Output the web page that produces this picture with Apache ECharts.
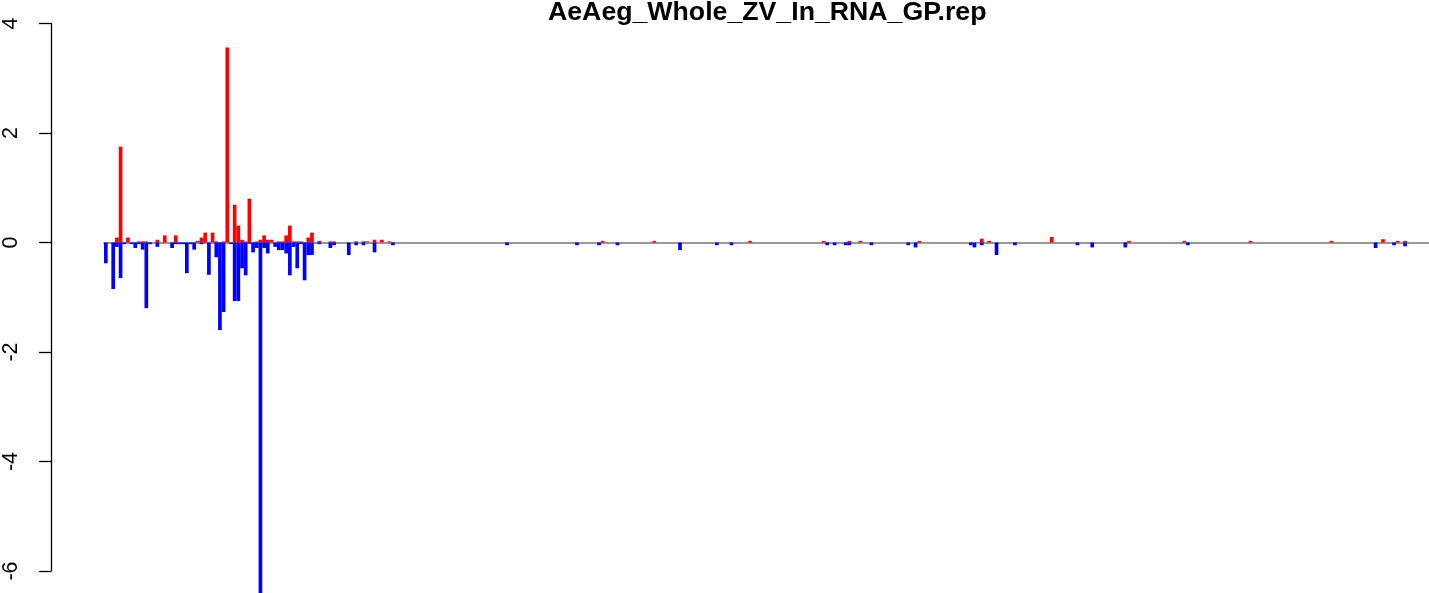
<!DOCTYPE html>
<html>
<head>
<meta charset="utf-8">
<script src="https://cdn.jsdelivr.net/npm/echarts@6/dist/echarts.min.js"></script>
<style>
html,body{margin:0;padding:0;background:#fff;}
#chart{width:1429px;height:593px;}
</style>
</head>
<body>
<div id="chart"></div>
<script>
const chartTitle = 'AeAeg_Whole_ZV_In_RNA_GP.rep';
const barCount = 360;
const yTicks = [-6, -4, -2, 0, 2, 4];

// positive (red) bars: column index and value
const redIdx = [3,4,6,9,10,11,14,16,19,25,26,27,29,30,32,33,35,36,37,38,39,41,42,43,44,45,47,48,49,50,51,52,53,55,56,58,61,62,68,70,71,73,75,77,135,149,175,195,202,205,221,238,240,257,278,293,311,333,347,351,353];
const redVal = [0.09,1.75,0.09,0.02,0.02,0.02,0.05,0.13,0.13,0.03,0.09,0.18,0.18,0.02,0.02,3.56,0.69,0.31,0.05,0.02,0.8,0.02,0.05,0.13,0.05,0.05,0.02,0.02,0.13,0.31,0.02,0.02,0.02,0.09,0.18,0.03,0.02,0.02,0.02,0.02,0.02,0.05,0.05,0.02,0.03,0.03,0.03,0.03,0.03,0.03,0.03,0.07,0.03,0.1,0.03,0.03,0.03,0.03,0.06,0.03,0.03];

// negative (blue) bars: column index and value
const blueIdx = [0,2,3,4,5,7,8,9,10,11,12,14,18,19,20,21,22,23,24,26,28,30,31,32,34,35,36,37,38,39,40,41,42,43,44,46,47,48,49,50,51,52,53,54,55,56,58,61,62,66,68,70,73,78,109,128,134,139,156,166,170,196,198,201,202,208,218,220,235,236,238,242,247,264,268,277,294,345,350,353];
const blueVal = [-0.38,-0.85,-0.08,-0.65,-0.03,-0.03,-0.1,-0.03,-0.13,-1.2,-0.03,-0.08,-0.1,-0.03,-0.03,-0.03,-0.56,-0.03,-0.13,-0.03,-0.59,-0.27,-1.6,-1.27,-0.03,-1.07,-1.07,-0.47,-0.6,-0.02,-0.18,-0.1,-6.4,-0.1,-0.2,-0.08,-0.14,-0.14,-0.2,-0.6,-0.08,-0.47,-0.03,-0.69,-0.23,-0.23,-0.03,-0.1,-0.05,-0.23,-0.05,-0.05,-0.18,-0.05,-0.05,-0.05,-0.05,-0.05,-0.14,-0.05,-0.05,-0.05,-0.05,-0.05,-0.05,-0.05,-0.05,-0.09,-0.05,-0.09,-0.05,-0.23,-0.05,-0.05,-0.09,-0.09,-0.05,-0.1,-0.05,-0.07];

const categories = [];
for (let i = 0; i < barCount; i++) categories.push(String(i + 1));
const redData = new Array(barCount).fill(0);
redIdx.forEach((k, j) => { redData[k] = redVal[j]; });
const blueData = new Array(barCount).fill(0);
blueIdx.forEach((k, j) => { blueData[k] = blueVal[j]; });

const chart = echarts.init(document.getElementById('chart'), null, {renderer: 'canvas'});
chart.setOption({
  animation: false,
  backgroundColor: '#ffffff',
  textStyle: {fontFamily: 'Liberation Sans, Arial, sans-serif'},
  title: {
    text: chartTitle,
    left: 548,
    top: -1,
    padding: 0,
    textStyle: {fontFamily: 'Liberation Sans, Arial, sans-serif', fontWeight: 'bold', fontSize: 26.7, color: '#000'}
  },
  grid: {left: 103.2, top: 23.5, width: 1330, height: 547.5},
  xAxis: {
    type: 'category',
    data: categories,
    boundaryGap: true,
    axisLine: {show: true, onZero: true, lineStyle: {color: '#999999', width: 2}},
    axisTick: {show: false},
    axisLabel: {show: false},
    splitLine: {show: false}
  },
  yAxis: {
    type: 'value',
    min: yTicks[0],
    max: yTicks[yTicks.length - 1],
    interval: 2,
    offset: 53,
    axisLine: {show: true, lineStyle: {color: '#000', width: 1.3}},
    axisTick: {show: true, length: 12, lineStyle: {color: '#000', width: 1.3}},
    axisLabel: {show: true, rotate: 90, fontSize: 21.5, color: '#000', margin: 29,
      fontFamily: 'Liberation Sans, Arial, sans-serif'},
    splitLine: {show: false}
  },
  series: [
    {
      type: 'bar', name: 'pos', data: redData, barWidth: '100%', barGap: '-100%',
      barCategoryGap: 0, clip: false, itemStyle: {color: '#ff0000'}, z: 3
    },
    {
      type: 'bar', name: 'neg', data: blueData, barWidth: '100%', barGap: '-100%',
      barCategoryGap: 0, clip: false, itemStyle: {color: '#0000ff'}, z: 3
    }
  ]
});
</script>
</body>
</html>
